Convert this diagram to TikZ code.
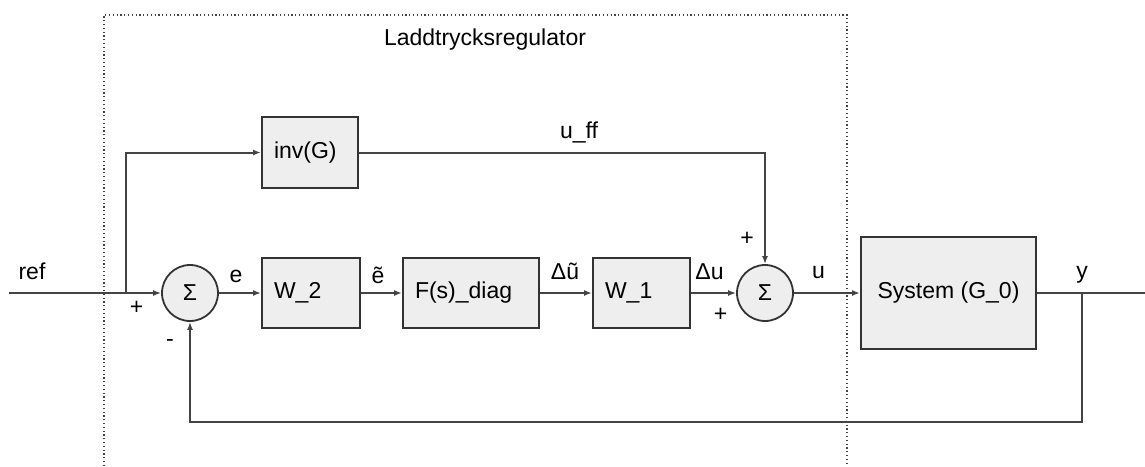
\documentclass[tikz,border=0pt]{standalone}
\usepackage{fontspec}
\setmainfont{Liberation Sans}
\usetikzlibrary{arrows.meta}
\newcommand\dfont{\fontsize{23}{27}\selectfont}
\definecolor{linecol}{HTML}{444444}
\definecolor{boxcol}{HTML}{333333}
\definecolor{fillcol}{HTML}{EEEEEE}
\tikzset{
  lbl/.style={font=\dfont, inner sep=0pt, text=black},
  blockbox/.style={draw=boxcol, line width=2pt, fill=fillcol, font=\dfont,
    inner xsep=12pt, inner ysep=0pt, align=left, minimum height=70pt},
  sumnode/.style={circle, draw=boxcol, line width=1.8pt, fill=fillcol, font=\dfont,
    minimum size=56pt, inner sep=0pt},
  conn/.style={draw=linecol, line width=2pt},
  arr/.style={conn, -{Latex[length=8pt,width=6pt]}},
  frame/.style={draw=linecol, line width=1.2pt, dash pattern=on 1.2pt off 2.6pt}
}
\begin{document}
\begin{tikzpicture}[x=1pt,y=-1pt]
\useasboundingbox (0,0) rectangle (1145,466);
% dotted frame
\draw[frame] (104,466) -- (104,15) -- (847,15) -- (847,466);
\node[lbl] (title) at (485,40) {Laddtrycksregulator};

% blocks
\node[sumnode] (s1) at (190,293) {Σ};
\node[blockbox, text width=74pt] (w2) at (311,293) {W\_2};
\node[blockbox, text width=112pt] (fs) at (471,293) {F(s)\_diag};
\node[blockbox, text width=73pt] (w1) at (641.5,293) {W\_1};
\node[sumnode] (s2) at (765,293) {Σ};
\node[draw=boxcol, line width=2pt, fill=fillcol, font=\dfont,
      minimum width=175pt, minimum height=112pt, inner sep=0pt] (sys) at (948.5,293) {System (G\_0)};
\node[blockbox, text width=72pt, minimum height=71pt] (inv) at (310,152.5) {inv(G)};

% coordinates
\coordinate (in) at (9,293);
\coordinate (br) at (126,293);
\coordinate (brtop) at (126,152.5);
\coordinate (ffc) at (765,152.5);
\coordinate (yb) at (1082,293);
\coordinate (out) at (1145,293);
\coordinate (fb1) at (1082,422);
\coordinate (fb2) at (190,422);

% connectors
\draw[arr] (in) -- (s1.west);
\draw[arr] (br) -- (brtop) -- (inv.west);
\draw[arr] (inv.east) -- (ffc) -- (s2.north);
\draw[arr] (s1.east) -- (w2.west);
\draw[arr] (w2.east) -- (fs.west);
\draw[arr] (fs.east) -- (w1.west);
\draw[arr] (w1.east) -- (s2.west);
\draw[arr] (s2.east) -- (sys.west);
\draw[conn] (sys.east) -- (out);
\draw[arr] (yb) -- (fb1) -- (fb2) -- (s1.south);

% labels
\node[lbl] (lref) at (32,271) {ref};
\node[lbl] (lp1) at (136.5,307.5) {+};
\node[lbl] (lm1) at (170,343) {-};
\node[lbl] (le) at (236,276.5) {e};
\node[lbl] (let) at (378,275.5) {ẽ};
\node[lbl] (ldut) at (565,271.5) {Δũ};
\node[lbl] (ldu) at (709.5,271.5) {Δu};
\node[lbl] (lp2) at (747,238.5) {+};
\node[lbl] (lp3) at (720.5,315) {+};
\node[lbl] (lu) at (818.5,272.5) {u};
\node[lbl] (ly) at (1082,275) {y};
\node[lbl] (luff) at (579,132) {u\_ff};
\end{tikzpicture}
\end{document}
